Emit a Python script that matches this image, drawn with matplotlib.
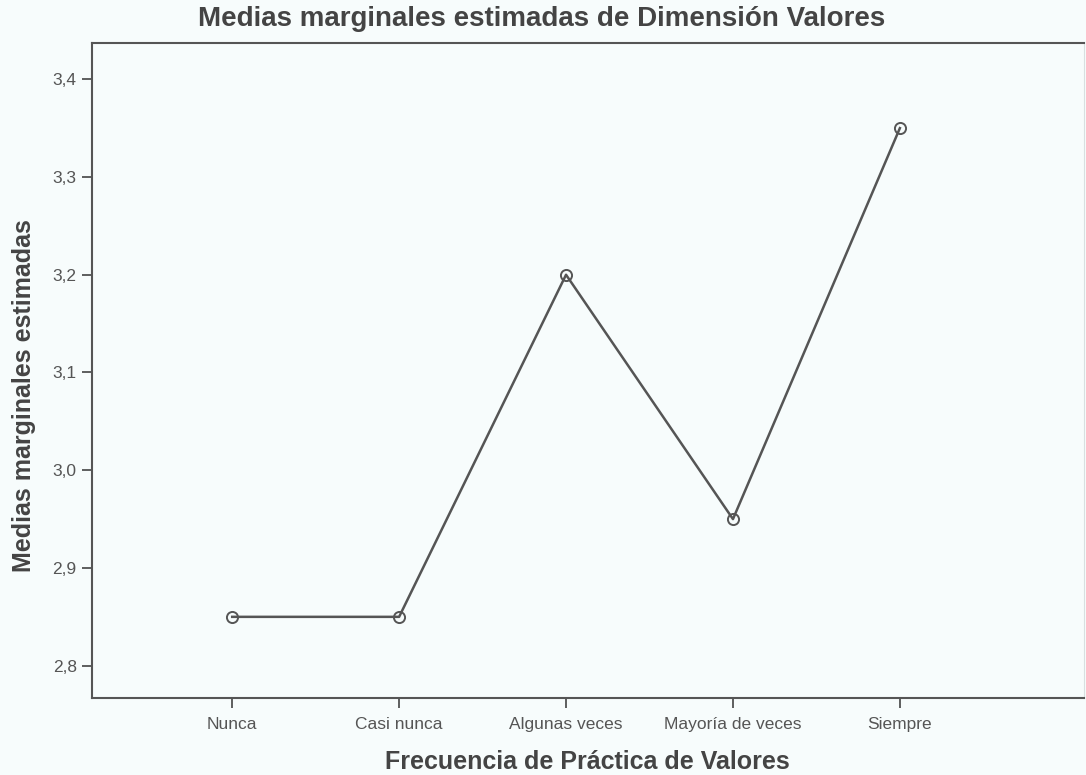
import matplotlib.pyplot as plt

categorias = ['Nunca', 'Casi nunca', 'Algunas veces', 'Mayoría de veces', 'Siempre']
medias = [2.85, 2.85, 3.20, 2.95, 3.35]
yticks = [2.8, 2.9, 3.0, 3.1, 3.2, 3.3, 3.4]
ytick_labels = ['2,8', '2,9', '3,0', '3,1', '3,2', '3,3', '3,4']

plt.rcParams['font.family'] = ['Liberation Sans', 'DejaVu Sans']

bg = '#f7fcfc'
fig = plt.figure(figsize=(10.86, 7.75), dpi=100, facecolor=bg)
ax = fig.add_axes([0.0847, 0.0994, 0.913, 0.845])
ax.set_facecolor(bg)

x = list(range(len(categorias)))
ax.plot(x, medias, color='#555555', linewidth=1.8, marker='o', markersize=8,
        markerfacecolor='none', markeredgecolor='#555555', markeredgewidth=1.4)

ax.set_xlim(-0.84, 5.1)
ax.set_ylim(2.767, 3.437)
ax.set_xticks(x)
ax.set_xticklabels(categorias)
ax.set_yticks(yticks)
ax.set_yticklabels(ytick_labels)
ax.tick_params(axis='both', direction='out', length=7, width=1.2, color='#444444',
               labelsize=12.5, labelcolor='#555555', pad=4)
ax.tick_params(axis='x', pad=7)

for s in ax.spines.values():
    s.set_color('#555555')
    s.set_linewidth(1.5)
ax.spines['right'].set_color('#d8e0e0')
ax.spines['right'].set_linewidth(0.8)

fig.text(0.499, 0.975, 'Medias marginales estimadas de Dimensión Valores', ha='center', va='center',
         fontsize=20, fontweight='bold', color='#444444')
fig.text(0.541, 0.017, 'Frecuencia de Práctica de Valores', ha='center', va='center',
         fontsize=18, fontweight='bold', color='#444444')
fig.text(0.022, 0.49, 'Medias marginales estimadas', ha='center', va='center', rotation=90,
         fontsize=18, fontweight='bold', color='#444444')

fig.savefig('out.png', dpi=100, facecolor=bg)
